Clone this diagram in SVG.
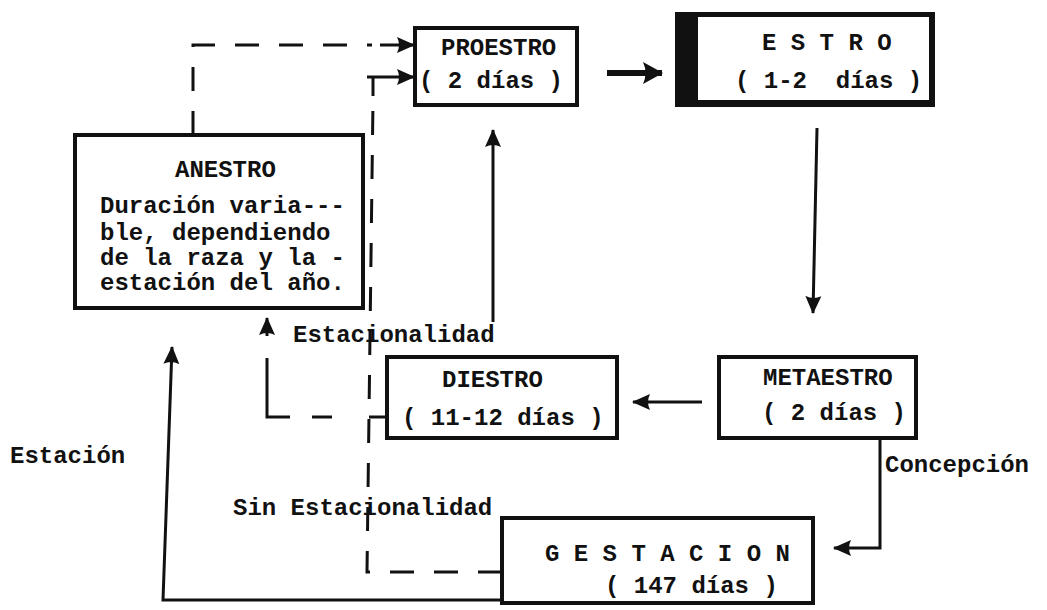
<svg xmlns="http://www.w3.org/2000/svg" width="1047" height="610" viewBox="0 0 1047 610" xml:space="preserve">
<style>
text{font-family:"Liberation Mono","DejaVu Sans Mono",monospace;font-weight:bold;font-size:24px;fill:#111;white-space:pre}
.box{fill:#fff;stroke:#111;stroke-width:4}
.ln{fill:none;stroke:#111;stroke-width:3}
.dash{fill:none;stroke:#111;stroke-width:3;stroke-dasharray:24 20}
.thick{fill:none;stroke:#111;stroke-width:6}
</style>
<defs>
<marker id="ah" viewBox="0 0 18 18" refX="17" refY="9" markerWidth="18" markerHeight="18" markerUnits="userSpaceOnUse" orient="auto">
<path d="M0,1 Q4,9 0,17 L18,9 Z" fill="#111"/>
</marker>
<marker id="ahb" viewBox="0 0 20 22" refX="19" refY="11" markerWidth="20" markerHeight="22" markerUnits="userSpaceOnUse" orient="auto">
<path d="M0,0 Q5,11 0,22 L20,11 Z" fill="#111"/>
</marker>
</defs>
<rect width="1047" height="610" fill="#fff"/>

<g id="connectors">
<path class="dash" d="M193,135 V45 H372"/>
<path class="ln" d="M380,45 H414" marker-end="url(#ah)"/>
<path class="dash" d="M502,572 H367 L373,100"/>
<path class="ln" d="M373,96 V77"/>
<path class="ln" d="M367,77 H414" marker-end="url(#ah)"/>
<path class="ln" d="M387,417 H369"/>
<path class="ln" d="M332,417 H312"/>
<path class="ln" d="M290,417 H267 V358"/>
<path class="ln" d="M267,336 V318" marker-end="url(#ah)"/>
<path class="thick" d="M607,73 H662" marker-end="url(#ahb)"/>
<path class="ln" d="M817,128 L813,313" marker-end="url(#ah)"/>
<path class="ln" d="M702,402 H633" marker-end="url(#ah)"/>
<path class="ln" d="M880,438 V548 H834" marker-end="url(#ah)"/>
<path class="ln" d="M502,600 H163 L172,347" marker-end="url(#ah)"/>
<path class="ln" d="M493,322 V130" marker-end="url(#ah)"/>
</g>

<g id="anestro">
<rect class="box" x="75" y="135" width="288" height="173"/>
<text x="175" y="177">ANESTRO</text>
<text x="100" y="213">Duración varia---</text>
<text x="100" y="240">ble, dependiendo</text>
<text x="100" y="265">de la raza y la -</text>
<text x="100" y="290">estación del año.</text>
</g>

<g id="proestro">
<rect class="box" x="415" y="28" width="162" height="77"/>
<text x="441" y="55">PROESTRO</text>
<text x="419" y="88">( 2 días )</text>
</g>

<g id="estro">
<rect x="675" y="12" width="260" height="95" fill="#111"/>
<rect x="698" y="17" width="231" height="83" fill="#fff"/>
<text x="762" y="50">E S T R O</text>
<text x="735" y="88">( 1-2  días )</text>
</g>

<g id="metaestro">
<rect class="box" x="719" y="357" width="197" height="81"/>
<text x="763" y="385">METAESTRO</text>
<text x="762" y="420">( 2 días )</text>
</g>

<g id="diestro">
<rect class="box" x="387" y="357" width="230" height="81"/>
<text x="442" y="387">DIESTRO</text>
<text x="402" y="425">( 11-12 días )</text>
</g>

<g id="gestacion">
<rect class="box" x="502" y="518" width="311" height="85"/>
<text x="545" y="561">G E S T A C I O N</text>
<text x="605" y="593">( 147 días )</text>
</g>

<g id="labels">
<text x="293" y="342">Estacionalidad</text>
<text x="233" y="515">Sin Estacionalidad</text>
<text x="10" y="463">Estación</text>
<text x="885" y="472">Concepción</text>
</g>
</svg>
